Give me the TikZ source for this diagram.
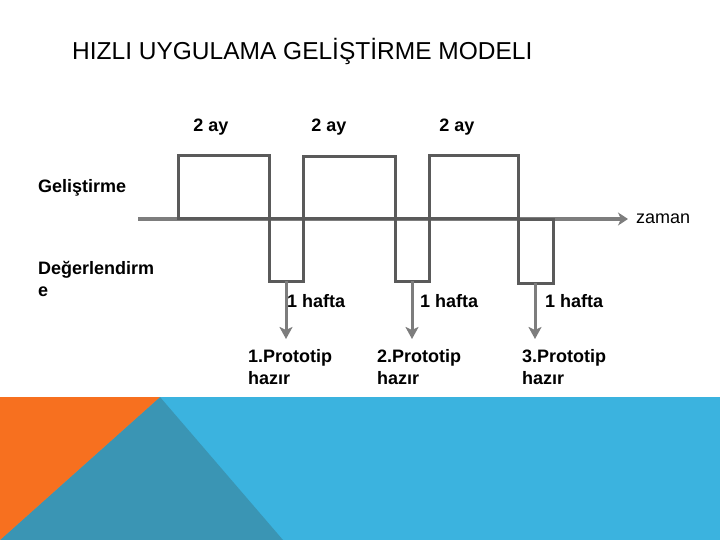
\documentclass[tikz,border=0pt]{standalone}
\usepackage{fontspec}
\setmainfont{Liberation Sans}
\usetikzlibrary{arrows.meta}
\definecolor{wavegray}{RGB}{90,90,90}
\definecolor{axisgray}{RGB}{125,125,125}
\definecolor{skyblue}{RGB}{59,179,223}
\definecolor{deepteal}{RGB}{58,149,180}
\definecolor{flameorange}{RGB}{247,112,31}
\tikzset{
  lbl/.style={anchor=base west,inner sep=0pt,align=left,
    font=\fontsize{18}{22}\selectfont\bfseries},
  ay/.style={anchor=base,inner sep=0pt,font=\fontsize{18}{22}\selectfont\bfseries},
  pulse/.style={draw=wavegray,line width=3pt},
  mark line/.style={draw=axisgray,line width=3pt,-{Stealth[length=12pt,width=13pt,inset=3pt]}}
}
\begin{document}
\begin{tikzpicture}[x=1pt,y=-1pt]
  \useasboundingbox (0,0) rectangle (720,540);
  % background corner
  \fill[skyblue] (0,397) rectangle (720,540);
  \fill[deepteal] (160,397)--(0,540)--(283,540)--cycle;
  \fill[flameorange] (0,397)--(160,397)--(0,540)--cycle;

  \node[anchor=base west,inner sep=0pt,font=\fontsize{24.5}{28}\selectfont] (title) at (72,60){HIZLI UYGULAMA GELİŞTİRME MODELI};

  % time axis
  \coordinate (t0) at (138,219);
  \coordinate (t1) at (628,219);
  \draw[draw=axisgray,line width=4pt,-{Stealth[length=10pt,width=13pt,inset=3pt]}] (t0)--(t1);
  \node[anchor=base west,inner sep=0pt,font=\fontsize{18}{22}\selectfont] (zaman) at (636,223){zaman};

  % gelistirme / degerlendirme pulses
  \draw[pulse] (178,156) rectangle (269,219);
  \draw[pulse] (269,219) rectangle (303,281);
  \draw[pulse] (303,157) rectangle (395,219);
  \draw[pulse] (395,219) rectangle (429,281);
  \draw[pulse] (429,156) rectangle (518,219);
  \draw[pulse] (518,220) rectangle (553,283);

  \node[ay] (ay1) at (211,132){2 ay};
  \node[ay] (ay2) at (329,132){2 ay};
  \node[ay] (ay3) at (457,132){2 ay};

  \node[lbl] (gel) at (38,193){Geliştirme};
  \node[lbl] (deg) at (38,296){Değerlendirm\\e};

  % prototip arrows
  \coordinate (p1) at (286,281);
  \coordinate (p2) at (412,281);
  \coordinate (p3) at (535,283);
  \coordinate (e1) at (286,339);
  \coordinate (e2) at (412,339);
  \coordinate (e3) at (535,339);
  \draw[mark line] (p1)--(e1);
  \draw[mark line] (p2)--(e2);
  \draw[mark line] (p3)--(e3);

  \node[lbl] (h1) at (287,307){1 hafta};
  \node[lbl] (h2) at (420,307){1 hafta};
  \node[lbl] (h3) at (545,307){1 hafta};

  \node[lbl] (pr1) at (248,384){1.Prototip\\hazır};
  \node[lbl] (pr2) at (377,384){2.Prototip\\hazır};
  \node[lbl] (pr3) at (522,384){3.Prototip\\hazır};
\end{tikzpicture}
\end{document}
